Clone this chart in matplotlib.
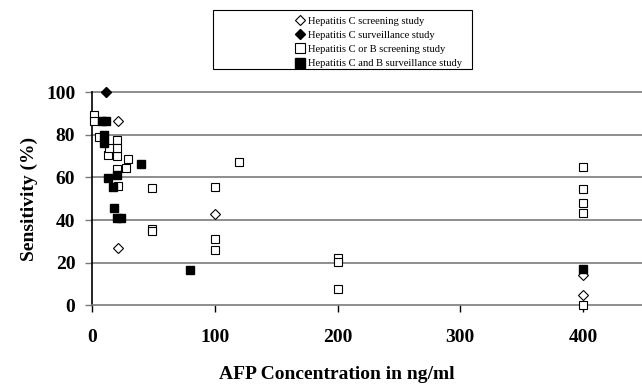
import matplotlib.pyplot as plt
from matplotlib.patches import Rectangle

# Hepatitis C screening study (open diamonds)
hc_scr_x = [21, 21, 100, 400, 400]
hc_scr_y = [86.6, 27, 43, 14.3, 4.9]

# Hepatitis C surveillance study (filled diamonds)
hc_surv_x = [11]
hc_surv_y = [100]

# Hepatitis C or B screening study (open squares)
hcb_scr_x = [2, 2, 6, 13, 20, 29, 27.5, 20, 20, 20, 14, 21, 49, 49, 49,
             100, 100, 100, 120, 200, 200, 200, 400, 400, 400, 400, 400]
hcb_scr_y = [89, 86.5, 79, 70.6, 70.2, 68.6, 64.4, 64, 77.7, 73.8, 74, 56, 55, 36, 35,
             55.3, 31.2, 26, 67.2, 22.4, 20.6, 7.7, 64.7, 54.7, 48, 43.5, 0]

# Hepatitis C and B surveillance study (filled squares)
hcb_surv_x = [8.5, 11, 9.5, 9.5, 13, 20, 40, 17, 18.3, 20, 24, 80, 400]
hcb_surv_y = [86.5, 86.5, 80, 76, 59.7, 61.3, 66.3, 55.5, 45.5, 41, 41, 16.6, 17.1]

xticks = [0, 100, 200, 300, 400]
yticks = [0, 20, 40, 60, 80, 100]

plt.rcParams['font.family'] = ['Liberation Serif', 'DejaVu Serif']

fig = plt.figure(figsize=(6.42, 3.90), dpi=100)
ax = fig.add_axes([0.1433, 0.2167, 0.8567, 0.5474])

grid_c = '#7a7a7a'
for y in yticks[1:]:
    ax.axhline(y, color=grid_c, lw=1.2, zorder=1, clip_on=False)

ms = 6
ax.plot(hc_scr_x, hc_scr_y, 'D', ms=4.8, mfc='white', mec='black', mew=0.8,
        ls='none', label='Hepatitis C screening study', zorder=3, clip_on=False)
ax.plot(hc_surv_x, hc_surv_y, 'D', ms=4.8, mfc='black', mec='black',
        ls='none', label='Hepatitis C surveillance study', zorder=3, clip_on=False)
ax.plot(hcb_scr_x, hcb_scr_y, 's', ms=ms, mfc='white', mec='black', mew=0.8,
        ls='none', label='Hepatitis C or B screening study', zorder=3, clip_on=False)
ax.plot(hcb_surv_x, hcb_surv_y, 's', ms=ms, mfc='black', mec='black',
        ls='none', label='Hepatitis C and B surveillance study', zorder=4, clip_on=False)

ax.set_xlim(0, 448)
ax.set_ylim(0, 100)
ax.set_xticks(xticks)
ax.set_yticks(yticks)
ax.tick_params(axis='y', direction='out', length=5, width=1, color=grid_c, pad=7, labelsize=14)
ax.tick_params(axis='x', direction='out', length=5, width=1, color='black', pad=12, labelsize=14)
for lab in ax.get_xticklabels() + ax.get_yticklabels():
    lab.set_fontweight('bold')

for s in ['top', 'right']:
    ax.spines[s].set_visible(False)
ax.spines['bottom'].set_color(grid_c)
ax.spines['bottom'].set_linewidth(1.2)
ax.spines['left'].set_color('black')
ax.spines['left'].set_linewidth(1.2)

ax.set_ylabel('Sensitivity (%)', fontsize=14, fontweight='bold', labelpad=6)
ax.set_xlabel('AFP Concentration in ng/ml', fontsize=14, fontweight='bold')
ax.xaxis.set_label_coords(0.445, -0.282)

# legend box (wider than its contents, as in the original)
fig.patches.append(Rectangle((213 / 642, 1 - 69 / 390), 259 / 642, 59 / 390,
                             transform=fig.transFigure, fill=False,
                             edgecolor='black', lw=0.8))
fig.legend(loc='upper left', bbox_to_anchor=(296 / 642, 1 - 16.5 / 390),
           fontsize=7.6, frameon=False, handlelength=0.8, handletextpad=0.3,
           borderpad=0, labelspacing=0.45, borderaxespad=0, markerscale=1.1)

fig.savefig('out.png', dpi=100)
